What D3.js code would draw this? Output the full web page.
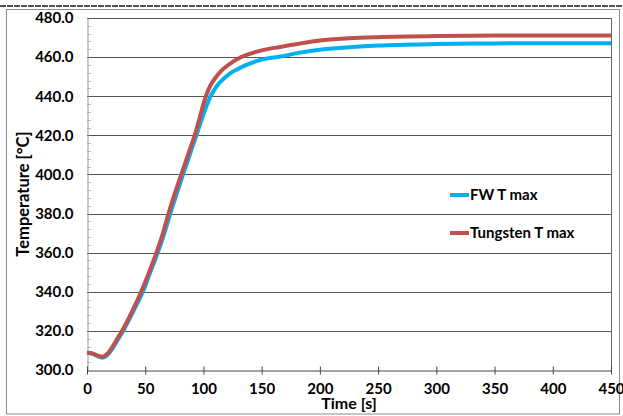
<!DOCTYPE html>
<html><head><meta charset="utf-8">
<script src="https://cdn.jsdelivr.net/npm/d3@7"></script>
<style>body{margin:0;background:#fff}svg{display:block}text{font-family:Lato,"Open Sans",sans-serif;font-weight:bold;fill:#000}</style>
</head><body><svg id="c" width="623" height="416"></svg>
<script>
const xTicks = [0,50,100,150,200,250,300,350,400,450];
const yTicks = [300,320,340,360,380,400,420,440,460,480];
const seriesNames = ["FW T max","Tungsten T max"];
const seriesColors = ["#00B0F0","#C0504D"];
const fwTime = [0,5,10,13,17,22,27,31,36,41,48,54,60.5,66.5,71.5,77,82.5,88.5,94.5,99,103,106,109,113,118,123,130,137,151,166,183,200,225,250,300,350,400,450];
const fwTemp = [308.8,308.2,306.8,306.3,307.3,311,316,320,325.5,331.5,340,349.5,359.5,370,380,390,400,410.5,421,429,435.5,439.8,443,446.4,449.3,451.7,454,456,458.9,460.3,462.3,463.8,465,465.9,466.7,467,467.1,467.1];
const wTime = [0,5,10,13,17,22,27,30,35,40,46.5,53,59,65,70,75,81,87,93,97,100,103,106,110,115,122.8,130,137,151,166,183,200,225,250,300,350,400,450];
const wTemp = [308.8,308.4,307.2,306.8,308,312,317,320,325.5,331.5,340,349.5,359,369.5,380,389.5,400,410.5,421,429.5,436,441.5,445.5,449.2,452.8,456.6,459.3,461.1,463.6,465.2,467,468.5,469.6,470.2,470.8,471,471.1,471.1];

const svg = d3.select("#c");
const m = {l:87, r:611, t:18, b:370};
const x = d3.scaleLinear().domain([0,450]).range([m.l,m.r]);
const y = d3.scaleLinear().domain([300,480]).range([m.b,m.t]);

// top dashed line and outer border
svg.append("line").attr("x1",0).attr("x2",623).attr("y1",6).attr("y2",6)
  .attr("stroke","#555").attr("stroke-width",2).attr("stroke-dasharray","6,1");
svg.append("rect").attr("x",6.5).attr("y",9.5).attr("width",613).attr("height",404.5)
  .attr("fill","none").attr("stroke","#8c8c8c").attr("stroke-width",1);

// gridlines
svg.append("g").selectAll("line").data(yTicks.slice(1)).join("line")
  .attr("x1",m.l).attr("x2",m.r).attr("y1",d=>Math.round(y(d))+0.5).attr("y2",d=>Math.round(y(d))+0.5)
  .attr("stroke","#555").attr("stroke-width",1);
// right border
svg.append("line").attr("x1",m.r+0.5).attr("x2",m.r+0.5).attr("y1",m.t).attr("y2",m.b)
  .attr("stroke","#666");

// y minor ticks
const minor = d3.range(300,480,4).filter(v=>v%20!==0);
svg.append("g").selectAll("line").data(minor).join("line")
  .attr("x1",m.l).attr("x2",m.l+4).attr("y1",d=>Math.round(y(d))+0.5).attr("y2",d=>Math.round(y(d))+0.5)
  .attr("stroke","#bbb");

// y axis
const yAxis = svg.append("g").attr("transform",`translate(${m.l+0.5},0)`)
  .call(d3.axisLeft(y).tickValues(yTicks).tickFormat(d3.format(".1f")).tickSize(0).tickPadding(14));
yAxis.select(".domain").attr("stroke","#999");
yAxis.selectAll("text").style("font-size","15px").style("font-family","Lato, sans-serif").style("font-weight","bold");

// x axis
const xAxis = svg.append("g").attr("transform",`translate(0,${m.b+0.5})`)
  .call(d3.axisBottom(x).tickValues(xTicks).tickSize(0).tickPadding(13));
xAxis.select(".domain").attr("stroke","#444");
xAxis.selectAll(".tick").append("line").attr("y1",-4).attr("y2",4).attr("stroke","#444");
xAxis.selectAll("text").style("font-size","15px").style("font-family","Lato, sans-serif").style("font-weight","bold");

// titles
svg.append("text").attr("x",(m.l+m.r)/2).attr("y",409).attr("text-anchor","middle")
  .style("font-size","16px").text("Time [s]");
svg.append("text").attr("transform",`translate(29,${(m.t+m.b)/2}) rotate(-90)`).attr("text-anchor","middle")
  .style("font-size","16.5px").text("Temperature [°C]");

// lines
const data = [fwTime.map((t,i)=>[t,fwTemp[i]]), wTime.map((t,i)=>[t,wTemp[i]])];
const line = d3.line().x(d=>x(d[0])).y(d=>y(d[1])).curve(d3.curveMonotoneX);
svg.append("g").selectAll("path").data(data).join("path")
  .attr("d",line).attr("fill","none").attr("stroke",(d,i)=>seriesColors[i])
  .attr("stroke-width",4).attr("stroke-linejoin","round");

// legend
const lg = svg.append("g").selectAll("g").data(seriesNames).join("g")
  .attr("transform",(d,i)=>`translate(450,${195+i*38})`);
lg.append("line").attr("x1",0).attr("x2",19).attr("stroke",(d,i)=>seriesColors[i]).attr("stroke-width",4);
lg.append("text").attr("x",20).attr("dy","0.35em").style("font-size","15px").text(d=>d);
</script></body></html>
